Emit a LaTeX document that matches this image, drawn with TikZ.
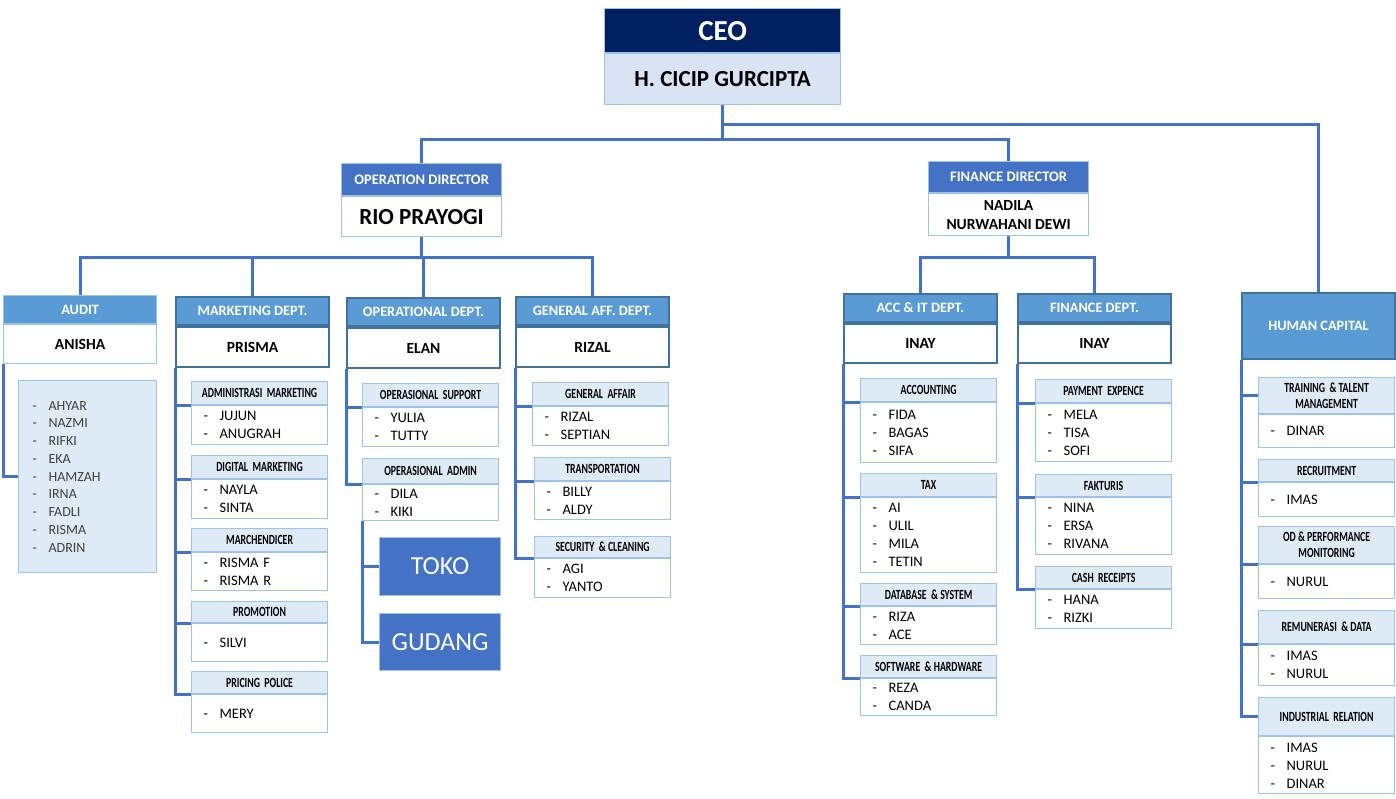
\documentclass[tikz,border=0pt]{standalone}
\usepackage{fontspec}
\setmainfont{Carlito}
\newfontfamily\condfont[FakeStretch=0.7]{Carlito}
\usetikzlibrary{positioning}

\definecolor{navy}{HTML}{002060}
\definecolor{dirblue}{HTML}{4472C4}
\definecolor{deptblue}{HTML}{5B9BD5}
\definecolor{deptline}{HTML}{41719C}
\definecolor{paleline}{HTML}{9DC3E6}
\definecolor{palefill}{HTML}{DEEBF7}
\definecolor{ceofill}{HTML}{DAE3F3}
\definecolor{linkblue}{HTML}{4472C4}
\definecolor{namegray}{HTML}{404040}

\newcommand\nm[1]{\makebox[16pt][l]{-}#1}

\tikzset{
  link/.style={draw=linkblue, line width=3pt},
  box/.style={anchor=north west, inner sep=0pt, line width=1.2pt, draw=paleline},
  dirhead/.style={box, fill=dirblue, text=white, minimum width=160pt, font=\bfseries\fontsize{14.5}{15}\selectfont},
  dirbody/.style={box, fill=white, minimum width=160pt, align=center},
  depthead/.style={box, draw=deptline, line width=2pt, fill=deptblue, text=white, minimum width=153pt, minimum height=28pt, font=\bfseries\fontsize{14.3}{15}\selectfont},
  deptbody/.style={box, draw=deptline, line width=2pt, fill=white, minimum width=153pt, minimum height=40pt, font=\bfseries\fontsize{15.5}{16}\selectfont},
  subhead/.style={box, fill=palefill, minimum width=136pt, align=center, font=\condfont\bfseries\fontsize{14}{16}\selectfont},
  subbody/.style={box, fill=white, minimum width=136pt, text width=112pt, inner xsep=12pt, align=left, font=\fontsize{14.5}{18}\selectfont},
  unit/.style={box, fill=dirblue, minimum width=121pt, text=white, font=\fontsize{26}{26}\selectfont},
}

\begin{document}
\begin{tikzpicture}[x=1pt, y=-1pt]
\useasboundingbox (0,0) rectangle (1396,798);

% top
\node[box, fill=navy, text=white, minimum width=236pt, minimum height=44pt, font=\bfseries\fontsize{29}{29}\selectfont] (ceo-h) at (604,8) {CEO};
\node[box, fill=ceofill, minimum width=236pt, minimum height=51pt, font=\bfseries\fontsize{23}{23}\selectfont, below=0pt of ceo-h] (ceo) {H. CICIP GURCIPTA};

\node[dirhead, minimum height=32pt] (opdir-h) at (341,163) {OPERATION DIRECTOR};
\node[dirbody, minimum height=40pt, font=\bfseries\fontsize{23}{23}\selectfont, below=0pt of opdir-h] (opdir) {RIO PRAYOGI};
\node[dirhead, minimum height=31pt] (findir-h) at (928,161) {FINANCE DIRECTOR};
\node[dirbody, minimum height=42pt, font=\bfseries\fontsize{15.5}{19}\selectfont, below=0pt of findir-h] (findir) {NADILA\\NURWAHANI DEWI};

% departments
\node[depthead, draw=paleline, line width=1.2pt] (audit-h) at (3,295) {AUDIT};
\node[deptbody, draw=paleline, line width=1.2pt, minimum height=39pt, below=0pt of audit-h] (audit) {ANISHA};
\node[depthead] (mkt-h) at (175,296) {MARKETING DEPT.};
\node[deptbody, below=0pt of mkt-h] (mkt) {PRISMA};
\node[depthead] (ops-h) at (346,297) {OPERATIONAL DEPT.};
\node[deptbody, below=0pt of ops-h] (ops) {ELAN};
\node[depthead] (gen-h) at (515,296) {GENERAL AFF. DEPT.};
\node[deptbody, below=0pt of gen-h] (gen) {RIZAL};
\node[depthead] (acc-h) at (843,293) {ACC \& IT DEPT.};
\node[deptbody, minimum height=39pt, below=0pt of acc-h] (acc) {INAY};
\node[depthead] (fin-h) at (1017,293) {FINANCE DEPT.};
\node[deptbody, minimum height=39pt, below=0pt of fin-h] (fin) {INAY};
\node[depthead, minimum height=66pt] (hc) at (1241,292) {HUMAN CAPITAL};

% audit
\node[box, fill=palefill, minimum width=138pt, minimum height=192pt, text width=110pt, inner xsep=14pt, align=left, text=namegray, font=\fontsize{14}{17.75}\selectfont] (audlist) at (18,380)
  {\nm{AHYAR}\\\nm{NAZMI}\\\nm{RIFKI}\\\nm{EKA}\\\nm{HAMZAH}\\\nm{IRNA}\\\nm{FADLI}\\\nm{RISMA}\\\nm{ADRIN}};

% marketing
\node[subhead, minimum height=23pt] (adm-h) at (191,381) {ADMINISTRASI\ \ MARKETING};
\node[subbody, minimum height=39pt, below=0pt of adm-h] (adm) {\nm{JUJUN}\\\nm{ANUGRAH}};
\node[subhead, minimum height=23pt] (dig-h) at (191,455) {DIGITAL\ \ MARKETING};
\node[subbody, minimum height=39pt, below=0pt of dig-h] (dig) {\nm{NAYLA}\\\nm{SINTA}};
\node[subhead, minimum height=23pt] (mrc-h) at (191,528) {MARCHENDICER};
\node[subbody, minimum height=38pt, below=0pt of mrc-h] (mrc) {\nm{RISMA F}\\\nm{RISMA R}};
\node[subhead, minimum height=21pt] (pro-h) at (191,601) {PROMOTION};
\node[subbody, minimum height=38pt, below=0pt of pro-h] (pro) {\nm{SILVI}};
\node[subhead, minimum height=22pt] (prc-h) at (191,671) {PRICING\ \ POLICE};
\node[subbody, minimum height=38pt, below=0pt of prc-h] (prc) {\nm{MERY}};

% operational
\node[subhead, minimum height=23pt] (osup-h) at (362,383) {OPERASIONAL\ \ SUPPORT};
\node[subbody, minimum height=39pt, below=0pt of osup-h] (osup) {\nm{YULIA}\\\nm{TUTTY}};
\node[subhead, minimum height=25pt] (oadm-h) at (362,458) {OPERASIONAL\ \ ADMIN};
\node[subbody, minimum height=36pt, below=0pt of oadm-h] (oadm) {\nm{DILA}\\\nm{KIKI}};
\node[unit, minimum height=58pt] (toko) at (379,537) {TOKO};
\node[unit, minimum height=57pt] (gudang) at (379,613) {GUDANG};

% general affair
\node[subhead, minimum height=23pt] (ga-h) at (532,382) {GENERAL\ \ AFFAIR};
\node[subbody, minimum height=39pt, below=0pt of ga-h] (ga) {\nm{RIZAL}\\\nm{SEPTIAN}};
\node[subhead, minimum height=23pt] (trans-h) at (534,457) {TRANSPORTATION};
\node[subbody, minimum height=38pt, below=0pt of trans-h] (trans) {\nm{BILLY}\\\nm{ALDY}};
\node[subhead, minimum height=21pt] (sec-h) at (534,536) {SECURITY\ \ \& CLEANING};
\node[subbody, minimum height=39pt, below=0pt of sec-h] (sec) {\nm{AGI}\\\nm{YANTO}};

% acc & it
\node[subhead, minimum height=23pt] (acct-h) at (860,378) {ACCOUNTING};
\node[subbody, minimum height=60pt, below=0pt of acct-h] (acct) {\nm{FIDA}\\\nm{BAGAS}\\\nm{SIFA}};
\node[subhead, minimum height=23pt] (tax-h) at (860,473) {TAX};
\node[subbody, minimum height=75pt, below=0pt of tax-h] (tax) {\nm{AI}\\\nm{ULIL}\\\nm{MILA}\\\nm{TETIN}};
\node[subhead, minimum height=22pt] (dbs-h) at (860,583) {DATABASE\ \ \& SYSTEM};
\node[subbody, minimum height=38pt, below=0pt of dbs-h] (dbs) {\nm{RIZA}\\\nm{ACE}};
\node[subhead, minimum height=22pt] (shw-h) at (860,655) {SOFTWARE\ \ \& HARDWARE};
\node[subbody, minimum height=37pt, below=0pt of shw-h] (shw) {\nm{REZA}\\\nm{CANDA}};

% finance
\node[subhead, minimum height=23pt] (pay-h) at (1035,379) {PAYMENT\ \ EXPENCE};
\node[subbody, minimum height=58pt, below=0pt of pay-h] (pay) {\nm{MELA}\\\nm{TISA}\\\nm{SOFI}};
\node[subhead, minimum height=22pt] (fak-h) at (1035,474) {FAKTURIS};
\node[subbody, minimum height=57pt, below=0pt of fak-h] (fak) {\nm{NINA}\\\nm{ERSA}\\\nm{RIVANA}};
\node[subhead, minimum height=22pt] (cash-h) at (1035,566) {CASH\ \ RECEIPTS};
\node[subbody, minimum height=39pt, below=0pt of cash-h] (cash) {\nm{HANA}\\\nm{RIZKI}};

% human capital
\node[subhead, minimum height=36pt] (tal-h) at (1258,377) {TRAINING\ \ \& TALENT\\MANAGEMENT};
\node[subbody, minimum height=33pt, below=0pt of tal-h] (tal) {\nm{DINAR}};
\node[subhead, minimum height=22pt] (rec-h) at (1258,459) {RECRUITMENT};
\node[subbody, minimum height=34pt, below=0pt of rec-h] (rec) {\nm{IMAS}};
\node[subhead, minimum height=37pt] (odp-h) at (1258,526) {OD \& PERFORMANCE\\MONITORING};
\node[subbody, minimum height=34pt, below=0pt of odp-h] (odp) {\nm{NURUL}};
\node[subhead, minimum height=33pt] (rem-h) at (1258,610) {REMUNERASI\ \ \& DATA};
\node[subbody, minimum height=41pt, below=0pt of rem-h] (rem) {\nm{IMAS}\\\nm{NURUL}};
\node[subhead, minimum height=38pt] (ind-h) at (1258,697) {INDUSTRIAL\ \ RELATION};
\node[subbody, minimum height=57pt, below=0pt of ind-h] (ind) {\nm{IMAS}\\\nm{NURUL}\\\nm{DINAR}};

% connectors
\draw[link] (ceo.south) -- ++(0,34) coordinate (ceobus);
\draw[link] (ceobus) -| (opdir-h.north);
\draw[link] (ceobus) -| (findir-h.north);
\draw[link] (ceo.south) ++(0,19) -| (hc.north);

\draw[link] (opdir.south) -- ++(0,20) coordinate (opbus);
\draw[link] (opbus) -| (audit-h.north);
\draw[link] (opbus) -| (mkt-h.north);
\draw[link] (opbus) -| (ops-h.north);
\draw[link] (opbus) -| (gen-h.north);

\draw[link] (findir.south) -- ++(0,21) coordinate (finbus);
\draw[link] (finbus) -| (acc-h.north);
\draw[link] (finbus) -| (fin-h.north);

\draw[link] (audit.south west) |- (audlist.west);

\draw[link] (mkt.south west) |- (adm.north west);
\draw[link] (mkt.south west) |- (dig.north west);
\draw[link] (mkt.south west) |- (mrc.north west);
\draw[link] (mkt.south west) |- (pro.north west);
\draw[link] (mkt.south west) |- (prc.north west);

\draw[link] (ops.south west) |- (osup.north west);
\draw[link] (ops.south west) |- (oadm-h.south west);
\draw[link] (oadm.south west) |- (toko.west);
\draw[link] (oadm.south west) |- (gudang.west);

\draw[link] (gen.south west) |- (ga.north west);
\draw[link] (gen.south west) |- (trans.north west);
\draw[link] (gen.south west) |- (sec.north west);

\draw[link] (acc.south west) |- (acct.north west);
\draw[link] (acc.south west) |- (tax.north west);
\draw[link] (acc.south west) |- (dbs.north west);
\draw[link] (acc.south west) |- (shw.north west);

\draw[link] (fin.south west) |- (pay.north west);
\draw[link] (fin.south west) |- (fak.north west);
\draw[link] (fin.south west) |- (cash.north west);

\draw[link] (hc.south west) |- (tal-h.west);
\draw[link] (hc.south west) |- (rec.north west);
\draw[link] (hc.south west) |- (odp-h.south west);
\draw[link] (hc.south west) |- (rem.north west);
\draw[link] (hc.south west) |- (ind-h.west);
\end{tikzpicture}
\end{document}
